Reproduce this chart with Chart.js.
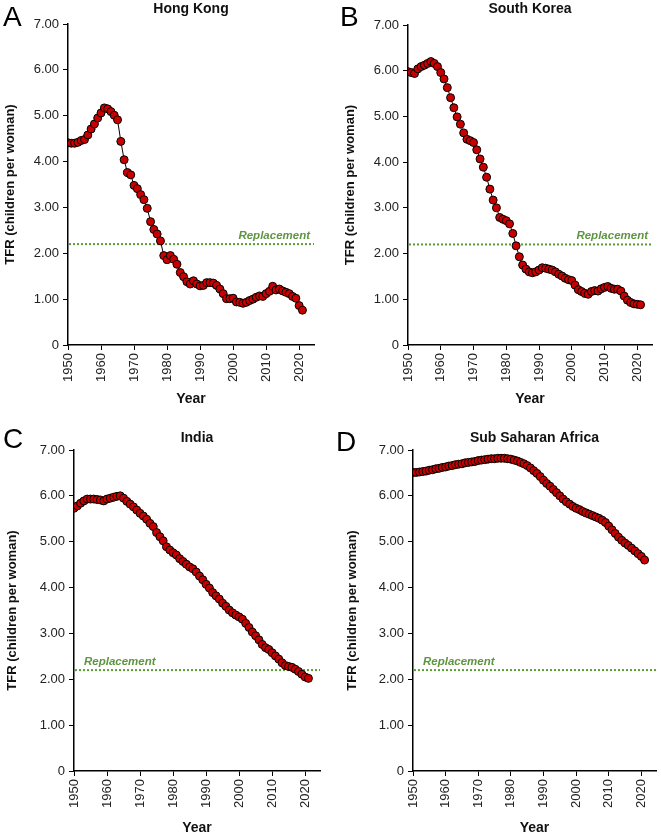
<!DOCTYPE html>
<html>
<head>
<meta charset="utf-8">
<script src="https://cdn.jsdelivr.net/npm/chart.js@4.4.1/dist/chart.umd.min.js"></script>
<style>
html,body{margin:0;padding:0;background:#fff;width:661px;height:836px;overflow:hidden;}
canvas.panel{position:absolute;}
.letter{position:absolute;z-index:5;font-family:'Liberation Sans',Arial,sans-serif;font-size:28px;line-height:28px;color:#000;}
</style>
</head>
<body>
<canvas id="cA" class="panel" style="left:0px;top:0px;width:330px;height:418px" width="330" height="418"></canvas>
<canvas id="cB" class="panel" style="left:330px;top:0px;width:331px;height:418px" width="331" height="418"></canvas>
<canvas id="cC" class="panel" style="left:0px;top:418px;width:330px;height:418px" width="330" height="418"></canvas>
<canvas id="cD" class="panel" style="left:330px;top:418px;width:331px;height:418px" width="331" height="418"></canvas>
<div class="letter" style="left:3px;top:3px">A</div>
<div class="letter" style="left:340px;top:3px">B</div>
<div class="letter" style="left:3px;top:425px">C</div>
<div class="letter" style="left:336px;top:428px">D</div>
<script>
// ---------- DATA ----------
const YEARS = Array.from({length: 72}, (_, i) => 1950 + i); // 1950..2021
const X_TICKS = [1950, 1960, 1970, 1980, 1990, 2000, 2010, 2020];
const Y_TICKS = [0, 1, 2, 3, 4, 5, 6, 7];
const REPLACEMENT_TFR = 2.2;
const REPLACEMENT_LABEL = 'Replacement';
const Y_TITLE = 'TFR (children per woman)';
const X_TITLE = 'Year';

const HONG_KONG = [
  4.41, 4.40, 4.40, 4.42, 4.46, 4.48, 4.58, 4.71, 4.82, 4.95,
  5.06, 5.17, 5.15, 5.09, 5.01, 4.91, 4.44, 4.04, 3.76, 3.71,
  3.48, 3.41, 3.28, 3.17, 2.98, 2.69, 2.52, 2.42, 2.27, 1.95,
  1.86, 1.95, 1.87, 1.76, 1.58, 1.49, 1.38, 1.33, 1.40, 1.33,
  1.29, 1.30, 1.36, 1.36, 1.35, 1.30, 1.22, 1.12, 1.01, 1.01,
  1.02, 0.94, 0.93, 0.91, 0.93, 0.97, 1.00, 1.04, 1.07, 1.06,
  1.12, 1.17, 1.28, 1.20, 1.22, 1.18, 1.15, 1.12, 1.06, 1.02,
  0.86, 0.76
];
const SOUTH_KOREA = [
  5.98, 5.96, 5.94, 6.04, 6.09, 6.12, 6.16, 6.20, 6.16, 6.09,
  5.96, 5.82, 5.63, 5.41, 5.19, 4.99, 4.83, 4.64, 4.50, 4.47,
  4.43, 4.27, 4.07, 3.89, 3.67, 3.41, 3.17, 3.00, 2.79, 2.75,
  2.72, 2.65, 2.44, 2.17, 1.93, 1.75, 1.66, 1.60, 1.58, 1.60,
  1.64, 1.69, 1.68, 1.66, 1.64, 1.60, 1.55, 1.51, 1.46, 1.43,
  1.41, 1.31, 1.21, 1.17, 1.13, 1.11, 1.17, 1.19, 1.18, 1.23,
  1.26, 1.28, 1.24, 1.22, 1.22, 1.18, 1.07, 0.98, 0.93, 0.90,
  0.89, 0.88
];
const INDIA = [
  5.73, 5.78, 5.84, 5.89, 5.93, 5.93, 5.93, 5.92, 5.91, 5.89,
  5.93, 5.95, 5.97, 5.99, 6.00, 5.95, 5.88, 5.82, 5.76, 5.69,
  5.62, 5.56, 5.49, 5.40, 5.33, 5.20, 5.11, 5.02, 4.89, 4.82,
  4.76, 4.71, 4.63, 4.57, 4.51, 4.45, 4.41, 4.34, 4.25, 4.17,
  4.07, 3.99, 3.89, 3.82, 3.75, 3.66, 3.59, 3.51, 3.45, 3.40,
  3.36, 3.31, 3.22, 3.13, 3.03, 2.95, 2.86, 2.76, 2.69, 2.65,
  2.58, 2.51, 2.44, 2.36, 2.30, 2.28, 2.26, 2.22, 2.17, 2.11,
  2.05, 2.02
];
const SUB_SAHARAN_AFRICA = [
  6.51, 6.51, 6.52, 6.53, 6.54, 6.56, 6.57, 6.59, 6.60, 6.62,
  6.63, 6.65, 6.66, 6.68, 6.69, 6.70, 6.72, 6.73, 6.74, 6.75,
  6.77, 6.78, 6.79, 6.80, 6.81, 6.81, 6.82, 6.82, 6.82, 6.81,
  6.80, 6.78, 6.76, 6.73, 6.70, 6.66, 6.61, 6.55, 6.49, 6.42,
  6.34, 6.27, 6.21, 6.14, 6.07, 6.00, 5.93, 5.87, 5.82, 5.77,
  5.73, 5.70, 5.66, 5.63, 5.60, 5.57, 5.54, 5.51, 5.47, 5.42,
  5.34, 5.26, 5.18, 5.10, 5.03, 4.97, 4.92, 4.86, 4.80, 4.74,
  4.68, 4.60
];

// ---------- STYLE ----------
const FONT = "'Liberation Sans', Arial, Helvetica, sans-serif";
Chart.defaults.font.family = FONT;
Chart.defaults.color = '#222';
const GREEN_LINE = '#5b9a35';
const GREEN_TEXT = '#5f9540';
const RED = '#c80000';

const replacementPlugin = {
  id: 'replacement',
  beforeDatasetsDraw(chart, args, opts) {
    const {ctx, chartArea, scales} = chart;
    const py = scales.y.getPixelForValue(REPLACEMENT_TFR);
    ctx.save();
    ctx.strokeStyle = GREEN_LINE;
    ctx.lineWidth = 2;
    ctx.setLineDash([2, 2]);
    ctx.beginPath();
    ctx.moveTo(chartArea.left + 1, py);
    ctx.lineTo(chartArea.right, py);
    ctx.stroke();
    ctx.setLineDash([]);
    ctx.font = "italic bold 11.5px " + FONT;
    ctx.fillStyle = GREEN_TEXT;
    ctx.textBaseline = 'alphabetic';
    if (opts.align === 'right') {
      ctx.textAlign = 'right';
      ctx.fillText(REPLACEMENT_LABEL, chartArea.right - 4, py - 5);
    } else {
      ctx.textAlign = 'left';
      ctx.fillText(REPLACEMENT_LABEL, chartArea.left + 10, py - 5);
    }
    ctx.restore();
  }
};

function makePanel(id, title, values, cfg) {
  const pts = YEARS.map((yr, i) => ({x: yr, y: values[i]}));
  new Chart(document.getElementById(id), {
    type: 'scatter',
    data: {
      datasets: [{
        data: pts,
        showLine: true,
        borderColor: '#000',
        borderWidth: 1,
        pointRadius: 4,
        pointHoverRadius: 4,
        pointBackgroundColor: RED,
        pointBorderColor: '#000',
        pointBorderWidth: 1
      }]
    },
    plugins: [replacementPlugin],
    options: {
      responsive: false,
      animation: false,
      devicePixelRatio: 1,
      layout: {padding: {left: 0, right: cfg.padRight, top: 0, bottom: 0}},
      plugins: {
        legend: {display: false},
        tooltip: {enabled: false},
        replacement: {align: cfg.repAlign},
        title: {
          display: true,
          text: title,
          fullSize: false,
          color: '#111',
          font: {size: 14, weight: 'bold', lineHeight: 1.2},
          padding: {top: cfg.titleTop, bottom: cfg.titleBottom}
        }
      },
      scales: {
        x: {
          type: 'linear',
          min: 1950,
          max: 2024.5,
          afterFit: (s) => { s.height = cfg.xH; },
          afterBuildTicks: (s) => { s.ticks = X_TICKS.map(v => ({value: v})); },
          ticks: {
            stepSize: 10,
            includeBounds: false,
            autoSkip: false,
            minRotation: 90,
            maxRotation: 90,
            padding: 3,
            color: '#222',
            font: {size: 13},
            callback: (v) => String(v)
          },
          grid: {display: true, drawOnChartArea: false, drawTicks: true, tickLength: 5, color: '#000', lineWidth: 1},
          border: {display: true, color: '#000', width: 1.5},
          title: {
            display: true,
            text: X_TITLE,
            color: '#111',
            font: {size: 14, weight: 'bold', lineHeight: 1},
            padding: {top: 0, bottom: cfg.xTitlePad}
          }
        },
        y: {
          type: 'linear',
          min: 0,
          max: 7,
          afterFit: (s) => { s.width = cfg.yW; },
          afterBuildTicks: (s) => { s.ticks = Y_TICKS.map(v => ({value: v})); },
          ticks: {
            stepSize: 1,
            padding: 4,
            color: '#222',
            font: {size: 13},
            callback: (v) => (v === 0 ? '0' : Number(v).toFixed(2))
          },
          grid: {display: true, drawOnChartArea: false, drawTicks: true, tickLength: 5, color: '#000', lineWidth: 1},
          border: {display: true, color: '#000', width: 1.5},
          title: {
            display: true,
            text: Y_TITLE,
            color: '#111',
            font: {size: 13, weight: 'bold', lineHeight: 1},
            padding: {top: cfg.yTitlePad, bottom: 0}
          }
        }
      }
    }
  });
}

makePanel('cA', 'Hong Kong', HONG_KONG,
  {yW: 68, xH: 73, padRight: 16, titleTop: 0.6, titleBottom: 6.6, repAlign: 'right', xTitlePad: 11.5, yTitlePad: 3.5});
makePanel('cB', 'South Korea', SOUTH_KOREA,
  {yW: 78, xH: 73, padRight: 9, titleTop: 0.6, titleBottom: 7.6, repAlign: 'right', xTitlePad: 11.5, yTitlePad: 13.5});
makePanel('cC', 'India', INDIA,
  {yW: 74, xH: 65, padRight: 10, titleTop: 11.6, titleBottom: 3.6, repAlign: 'left', xTitlePad: 0.5, yTitlePad: 5.5});
makePanel('cD', 'Sub Saharan Africa', SUB_SAHARAN_AFRICA,
  {yW: 83, xH: 65, padRight: 3, titleTop: 11.6, titleBottom: 3.6, repAlign: 'left', xTitlePad: 0.5, yTitlePad: 15.5});
</script>
</body>
</html>
